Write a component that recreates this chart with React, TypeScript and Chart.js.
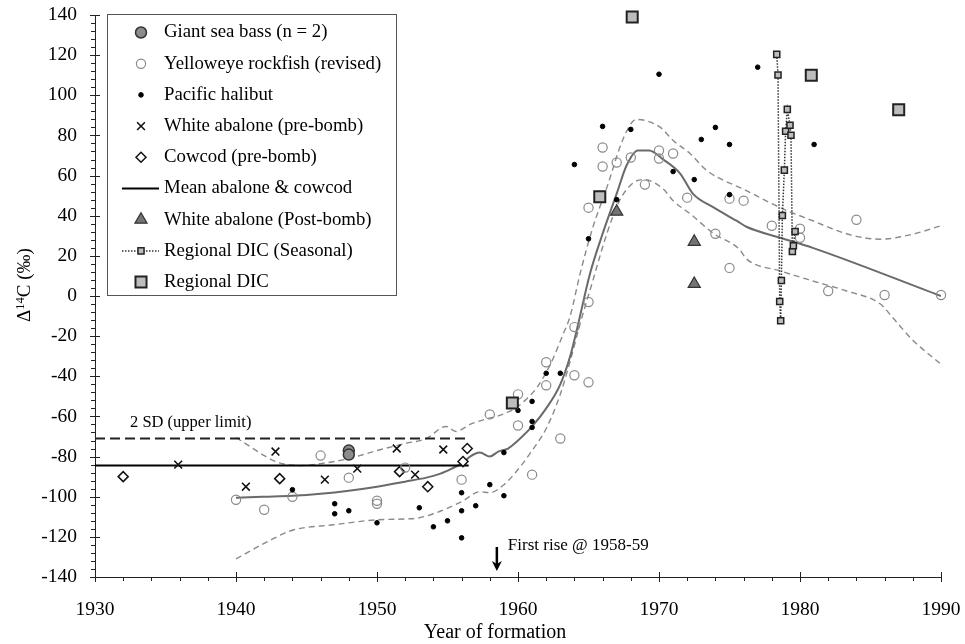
import React, { useEffect, useRef } from "react";
import { Chart, registerables } from "chart.js";

Chart.register(...registerables);

// ---------- axis ticks ----------
const xTickValues = [1930, 1940, 1950, 1960, 1970, 1980, 1990];
const yTickValues = [-140, -120, -100, -80, -60, -40, -20, 0, 20, 40, 60, 80, 100, 120, 140];

// ---------- series ----------
const seaBassYears = [1948, 1948];
const seaBassVals = [-77, -79];

const yelloweyeYears = [1940, 1942, 1944, 1946, 1948, 1950, 1950, 1952, 1956, 1958, 1960, 1960, 1961, 1962, 1962, 1963, 1964, 1964, 1965, 1965, 1965, 1966, 1966, 1967, 1968, 1969, 1970, 1970, 1971, 1972, 1974, 1975, 1975, 1976, 1978, 1980, 1980, 1982, 1984, 1986, 1990];
const yelloweyeVals = [-101.5, -106.5, -100, -79.5, -90.5, -102, -103.5, -85.5, -91.5, -59, -49, -64.5, -89, -33, -44.5, -71, -15.5, -39.5, -43, -3, 44, 74, 64.5, 66.5, 69, 55.5, 72.5, 68.5, 71, 49, 31, 48.5, 14, 47.5, 35, 33.5, 29, 2.5, 38, 0.5, 0.5];

const halibutYears = [1944, 1947, 1947, 1948, 1950, 1953, 1954, 1955, 1956, 1956, 1956, 1957, 1958, 1959, 1959, 1960, 1961, 1961, 1961, 1962, 1963, 1964, 1965, 1966, 1967, 1968, 1970, 1971, 1972.5, 1973, 1974, 1975, 1975, 1977, 1981];
const halibutVals = [-96.5, -103.5, -108.5, -107, -113, -105.5, -115, -112, -98, -107, -120.5, -104.5, -94, -78, -99.5, -57, -52.5, -62.5, -65.5, -38.5, -38.5, 65.5, 28.5, 84.5, 48, 83, 110.5, 62, 58, 78, 84, 75.5, 50.5, 114, 75.5];

const abalonePreYears = [1935.9, 1940.7, 1942.8, 1946.3, 1948.6, 1951.4, 1952.7, 1954.7];
const abalonePreVals = [-84, -95, -77.5, -91.5, -86, -76, -89, -76.5];

const cowcodYears = [1932, 1943.1, 1951.6, 1953.6, 1956.1, 1956.4];
const cowcodVals = [-90, -91, -87.5, -95, -82.5, -76];

const meanLineYears = [1930, 1956.5];
const meanLineVals = [-84.5, -84.5];

const sdLineYears = [1930, 1956.5];
const sdLineVals = [-71, -71];

const abalonePostYears = [1967, 1972.5, 1972.5];
const abalonePostVals = [42, 27, 6];

const dicSeasonYears = [1978.35, 1978.44, 1978.56, 1978.63, 1978.68, 1978.75, 1978.89, 1978.98, 1979.1, 1979.29, 1979.36, 1979.46, 1979.53, 1979.65];
const dicSeasonVals = [120.4, 110.1, -2.7, -12.3, 7.7, 40.1, 62.7, 82.1, 93, 85.1, 80.1, 22.2, 25, 32.1];

const dicYears = [1959.6, 1965.8, 1968.1, 1980.8, 1987.0];
const dicVals = [-53.3, 49.5, 139, 110, 92.8];

const fitMeanYears = [1940, 1942, 1944, 1946, 1948, 1950, 1952, 1953.5, 1954.5, 1955.3, 1956.1, 1956.6, 1957.3, 1958, 1958.6, 1959.3, 1960, 1961, 1962, 1963, 1963.7, 1964.2, 1965.1, 1966, 1967, 1967.7, 1968.5, 1969.3, 1970.3, 1971.5, 1972.4, 1973.9, 1975.5, 1976.2, 1978.6, 1980.9, 1990];
const fitMeanVals = [-100.5, -100, -99.5, -98.5, -97, -95, -92.5, -90.5, -88.5, -86, -83, -80, -78, -80, -77.5, -76, -72, -65, -56, -44, -30, -16, 11, 31, 51, 65, 72.5, 72.5, 68, 61, 51, 44, 37.5, 34.5, 29, 24, 0];

const fitUpperYears = [1940, 1941, 1942, 1943, 1944.5, 1946, 1948, 1950, 1952, 1953.5, 1954.9, 1955.6, 1956.6, 1957.9, 1958.5, 1959.4, 1959.9, 1960.5, 1961.3, 1962.3, 1963.2, 1963.7, 1964.4, 1965.3, 1966.3, 1967.5, 1968.4, 1970.1, 1971, 1972.2, 1973.4, 1976.2, 1978.6, 1980.9, 1983.3, 1985.7, 1988, 1990];
const fitUpperVals = [-70.5, -75, -79.5, -83, -84.5, -83.5, -81, -77, -73.5, -71, -65, -67.5, -64, -61, -60, -57.5, -55.5, -52, -46, -34, -19, -10, 11, 34, 54, 79, 88, 84, 77.5, 71, 62.5, 52.5, 44, 37.5, 31, 28.3, 30.8, 35];

const fitLowerYears = [1940, 1942.2, 1944, 1946.9, 1950, 1952.3, 1953, 1954, 1956, 1957.3, 1958, 1959, 1959.7, 1961, 1962, 1963, 1963.7, 1964.4, 1965.3, 1966.3, 1967.2, 1968.2, 1968.9, 1970.3, 1971, 1972.2, 1973.9, 1975.7, 1976.2, 1978.6, 1980.9, 1983.3, 1985.7, 1986.6, 1988, 1990];
const fitLowerVals = [-131, -122.5, -116.7, -114, -111.5, -111, -110.5, -108.5, -102.5, -97.5, -98, -94, -89, -77, -66, -49, -32.5, -14, 7.5, 31, 47.5, 56.5, 58, 53.3, 47.5, 41, 31, 23.3, 18.5, 12.5, 7.5, 2.5, -4, -11, -22, -34];

const legendLabels = [
  "Giant sea bass (n = 2)",
  "Yelloweye rockfish (revised)",
  "Pacific halibut",
  "White abalone (pre-bomb)",
  "Cowcod (pre-bomb)",
  "Mean abalone & cowcod",
  "White abalone (Post-bomb)",
  "Regional DIC (Seasonal)",
  "Regional DIC",
];

const sdLabel = "2 SD (upper limit)";
const firstRiseLabel = "First rise @ 1958-59";
const firstRiseYear = 1958.5;
const xTitle = "Year of formation";

const SERIF = '"Liberation Serif", "Times New Roman", serif';

function pts(xs: number[], ys: number[]) {
  return xs.map((x, i) => ({ x, y: ys[i] }));
}

type Marker = {
  style: string;
  r: number;
  fill: string;
  stroke: string;
  lw: number;
};

function drawMarker(ctx: CanvasRenderingContext2D, m: Marker, x: number, y: number) {
  ctx.save();
  ctx.setLineDash([]);
  ctx.fillStyle = m.fill;
  ctx.strokeStyle = m.stroke;
  ctx.lineWidth = m.lw;
  ctx.beginPath();
  const r = m.r;
  if (m.style === "circle") {
    ctx.arc(x, y, r, 0, Math.PI * 2);
    ctx.fill();
    ctx.stroke();
  } else if (m.style === "rect") {
    const s = Math.SQRT1_2 * r;
    ctx.rect(x - s, y - s, 2 * s, 2 * s);
    ctx.fill();
    ctx.stroke();
  } else if (m.style === "rectRot") {
    ctx.moveTo(x - r, y);
    ctx.lineTo(x, y - r);
    ctx.lineTo(x + r, y);
    ctx.lineTo(x, y + r);
    ctx.closePath();
    ctx.fill();
    ctx.stroke();
  } else if (m.style === "triangle") {
    let a = 0;
    ctx.moveTo(x + Math.sin(a) * r, y - Math.cos(a) * r);
    a += (2 * Math.PI) / 3;
    ctx.lineTo(x + Math.sin(a) * r, y - Math.cos(a) * r);
    a += (2 * Math.PI) / 3;
    ctx.lineTo(x + Math.sin(a) * r, y - Math.cos(a) * r);
    ctx.closePath();
    ctx.fill();
    ctx.stroke();
  } else if (m.style === "crossRot") {
    const o = Math.SQRT1_2 * r;
    ctx.moveTo(x - o, y - o);
    ctx.lineTo(x + o, y + o);
    ctx.moveTo(x - o, y + o);
    ctx.lineTo(x + o, y - o);
    ctx.stroke();
  }
  ctx.restore();
}

const M_SEABASS: Marker = { style: "circle", r: 5.5, fill: "#8c8c8c", stroke: "#333", lw: 1.5 };
const M_YELLOW: Marker = { style: "circle", r: 4.6, fill: "rgba(255,255,255,0)", stroke: "#8a8a8a", lw: 1.2 };
const M_HALIBUT: Marker = { style: "circle", r: 2.3, fill: "#000", stroke: "#000", lw: 1 };
const M_ABPRE: Marker = { style: "crossRot", r: 5.5, fill: "#000", stroke: "#111", lw: 1.6 };
const M_COWCOD: Marker = { style: "rectRot", r: 5, fill: "#fff", stroke: "#111", lw: 1.5 };
const M_ABPOST: Marker = { style: "triangle", r: 7, fill: "#747474", stroke: "#333", lw: 1.2 };
const M_DICS: Marker = { style: "rect", r: 4.3, fill: "#bdbdbd", stroke: "#222", lw: 1.5 };
const M_DIC: Marker = { style: "rect", r: 7.8, fill: "#bdbdbd", stroke: "#222", lw: 2 };

function ds(label: string, xs: number[], ys: number[], m: Marker, extra: any = {}) {
  return {
    label,
    data: pts(xs, ys),
    pointStyle: m.style,
    pointRadius: m.r,
    pointBackgroundColor: m.fill,
    pointBorderColor: m.stroke,
    pointBorderWidth: m.lw,
    showLine: false,
    clip: false,
    ...extra,
  };
}

function lineDs(label: string, xs: number[], ys: number[], color: string, width: number, dash: number[], smooth: boolean) {
  return {
    label,
    data: pts(xs, ys),
    showLine: true,
    pointRadius: 0,
    borderColor: color,
    borderWidth: width,
    borderDash: dash,
    cubicInterpolationMode: smooth ? "monotone" : "default",
    fill: false,
  };
}

const decorPlugin = {
  id: "decor",
  afterDraw(chart: any) {
    const { ctx, chartArea } = chart;
    const xs = chart.scales.x;
    const ys = chart.scales.y;
    ctx.save();
    ctx.strokeStyle = "#222";
    ctx.lineWidth = 1;
    ctx.setLineDash([]);
    // y tick marks
    const ax = chartArea.left;
    for (let v = -140; v <= 140; v += 4) {
      const py = Math.round(ys.getPixelForValue(v)) + 0.5;
      ctx.beginPath();
      if (v % 20 === 0) {
        ctx.moveTo(ax - 5, py);
        ctx.lineTo(ax + 5, py);
      } else {
        ctx.moveTo(ax - 4, py);
        ctx.lineTo(ax, py);
      }
      ctx.stroke();
    }
    // x tick marks
    const ay = chartArea.bottom;
    for (let yr = 1930; yr <= 1990; yr += 2) {
      const px = Math.round(xs.getPixelForValue(yr)) + 0.5;
      ctx.beginPath();
      if ((yr - 1930) % 10 === 0) {
        ctx.moveTo(px, ay - 5);
        ctx.lineTo(px, ay + 5);
      } else {
        ctx.moveTo(px, ay);
        ctx.lineTo(px, ay + 4);
      }
      ctx.stroke();
    }

    // y title with superscript
    ctx.save();
    ctx.translate(30, 285);
    ctx.rotate(-Math.PI / 2);
    ctx.fillStyle = "#000";
    ctx.textBaseline = "alphabetic";
    const big = `19px ${SERIF}`;
    const small = `12.5px ${SERIF}`;
    ctx.font = big;
    const w1 = ctx.measureText("\u0394").width;
    const w3 = ctx.measureText("C (\u2030)").width;
    ctx.font = small;
    const w2 = ctx.measureText("14").width;
    let cx = -(w1 + w2 + w3) / 2;
    ctx.font = big;
    ctx.textAlign = "left";
    ctx.fillText("\u0394", cx, 0);
    cx += w1;
    ctx.font = small;
    ctx.fillText("14", cx, -6.5);
    cx += w2;
    ctx.font = big;
    ctx.fillText("C (\u2030)", cx, 0);
    ctx.restore();

    // x title
    ctx.fillStyle = "#000";
    ctx.font = `20px ${SERIF}`;
    ctx.textAlign = "center";
    ctx.textBaseline = "middle";
    ctx.fillText(xTitle, 495, 633);

    // 2 SD label
    ctx.font = `16.5px ${SERIF}`;
    ctx.textAlign = "left";
    ctx.fillText(sdLabel, 130, 423);

    // first rise arrow
    const arx = xs.getPixelForValue(firstRiseYear);
    ctx.strokeStyle = "#000";
    ctx.lineWidth = 2.5;
    ctx.beginPath();
    ctx.moveTo(arx, 547);
    ctx.lineTo(arx, 568);
    ctx.stroke();
    ctx.fillStyle = "#000";
    ctx.beginPath();
    ctx.moveTo(arx - 5, 561);
    ctx.lineTo(arx, 571);
    ctx.lineTo(arx + 5, 561);
    ctx.lineTo(arx, 564);
    ctx.closePath();
    ctx.fill();
    ctx.font = `17px ${SERIF}`;
    ctx.textBaseline = "middle";
    ctx.fillText(firstRiseLabel, arx + 11, 546);

    // legend box
    ctx.strokeStyle = "#555";
    ctx.lineWidth = 1;
    ctx.strokeRect(107.5, 14.5, 289, 281);
    const markers: (Marker | null)[] = [M_SEABASS, M_YELLOW, M_HALIBUT, M_ABPRE, M_COWCOD, null, M_ABPOST, M_DICS, M_DIC];
    const mx = 141;
    for (let i = 0; i < legendLabels.length; i++) {
      const ry = 32.5 + i * 31.2;
      if (i === 5) {
        ctx.strokeStyle = "#000";
        ctx.lineWidth = 2;
        ctx.setLineDash([]);
        ctx.beginPath();
        ctx.moveTo(122, ry);
        ctx.lineTo(159, ry);
        ctx.stroke();
      } else if (i === 7) {
        ctx.strokeStyle = "#333";
        ctx.lineWidth = 1.5;
        ctx.setLineDash([1.5, 1.5]);
        ctx.beginPath();
        ctx.moveTo(122, ry);
        ctx.lineTo(159, ry);
        ctx.stroke();
        ctx.setLineDash([]);
        drawMarker(ctx, markers[i] as Marker, mx, ry);
      } else {
        drawMarker(ctx, markers[i] as Marker, mx, ry);
      }
      ctx.fillStyle = "#000";
      ctx.font = `18.8px ${SERIF}`;
      ctx.textAlign = "left";
      ctx.textBaseline = "middle";
      ctx.fillText(legendLabels[i], 164, ry);
    }
    ctx.restore();
  },
};

export default function App() {
  const ref = useRef<HTMLCanvasElement | null>(null);
  useEffect(() => {
    if (!ref.current) return;
    const chart = new Chart(ref.current, {
      type: "scatter",
      data: {
        datasets: [
          ds("Regional DIC (Seasonal)", dicSeasonYears, dicSeasonVals, M_DICS, {
            showLine: true,
            borderColor: "#333",
            borderWidth: 1.5,
            borderDash: [1.5, 1.5],
          }),
          ds("Regional DIC", dicYears, dicVals, M_DIC),
          ds("White abalone (Post-bomb)", abalonePostYears, abalonePostVals, M_ABPOST),
          ds("Giant sea bass (n = 2)", seaBassYears, seaBassVals, M_SEABASS),
          ds("Pacific halibut", halibutYears, halibutVals, M_HALIBUT),
          ds("Yelloweye rockfish (revised)", yelloweyeYears, yelloweyeVals, M_YELLOW),
          ds("White abalone (pre-bomb)", abalonePreYears, abalonePreVals, M_ABPRE),
          ds("Cowcod (pre-bomb)", cowcodYears, cowcodVals, M_COWCOD),
          lineDs("Mean abalone & cowcod", meanLineYears, meanLineVals, "#000", 2, [], false),
          lineDs("2 SD (upper limit)", sdLineYears, sdLineVals, "#222", 2, [10, 5], false),
          lineDs("Fit mean", fitMeanYears, fitMeanVals, "#6a6a6a", 2, [], true),
          lineDs("Fit upper", fitUpperYears, fitUpperVals, "#8a8a8a", 1.4, [6, 4], true),
          lineDs("Fit lower", fitLowerYears, fitLowerVals, "#8a8a8a", 1.4, [6, 4], true),
        ] as any,
      },
      options: {
        animation: false,
        responsive: false,
        events: [],
        layout: { padding: { left: 0, top: 15, right: 24, bottom: 0 } },
        plugins: {
          legend: { display: false },
          tooltip: { enabled: false },
          title: { display: false },
        },
        scales: {
          x: {
            type: "linear",
            min: 1930,
            max: 1990,
            afterBuildTicks: (s: any) => {
              s.ticks = xTickValues.map((v) => ({ value: v }));
            },
            ticks: {
              font: { family: SERIF, size: 19.5 },
              color: "#000",
              padding: 21,
              maxRotation: 0,
              autoSkip: false,
              callback: (v: any) => String(v),
            },
            grid: { display: false, drawTicks: false },
            border: { display: true, color: "#222", width: 1 },
            afterFit: (s: any) => {
              s.height = 67;
              s.paddingLeft = 0;
              s.paddingRight = 0;
            },
          },
          y: {
            type: "linear",
            min: -140,
            max: 140,
            afterBuildTicks: (s: any) => {
              s.ticks = yTickValues.map((v) => ({ value: v }));
            },
            ticks: {
              font: { family: SERIF, size: 19.5 },
              color: "#000",
              padding: 18,
              autoSkip: false,
              callback: (v: any) => String(v),
            },
            grid: { display: false, drawTicks: false },
            border: { display: true, color: "#222", width: 1 },
            afterFit: (s: any) => {
              s.width = 95;
              s.paddingTop = 0;
              s.paddingBottom = 0;
            },
          },
        },
      } as any,
      plugins: [decorPlugin],
    });
    return () => chart.destroy();
  }, []);
  return (
    <div style={{ position: "fixed", left: 0, top: 0, width: 965, height: 644, background: "#fff" }}>
      <canvas ref={ref} width={965} height={644} style={{ width: 965, height: 644, display: "block" }} />
    </div>
  );
}
